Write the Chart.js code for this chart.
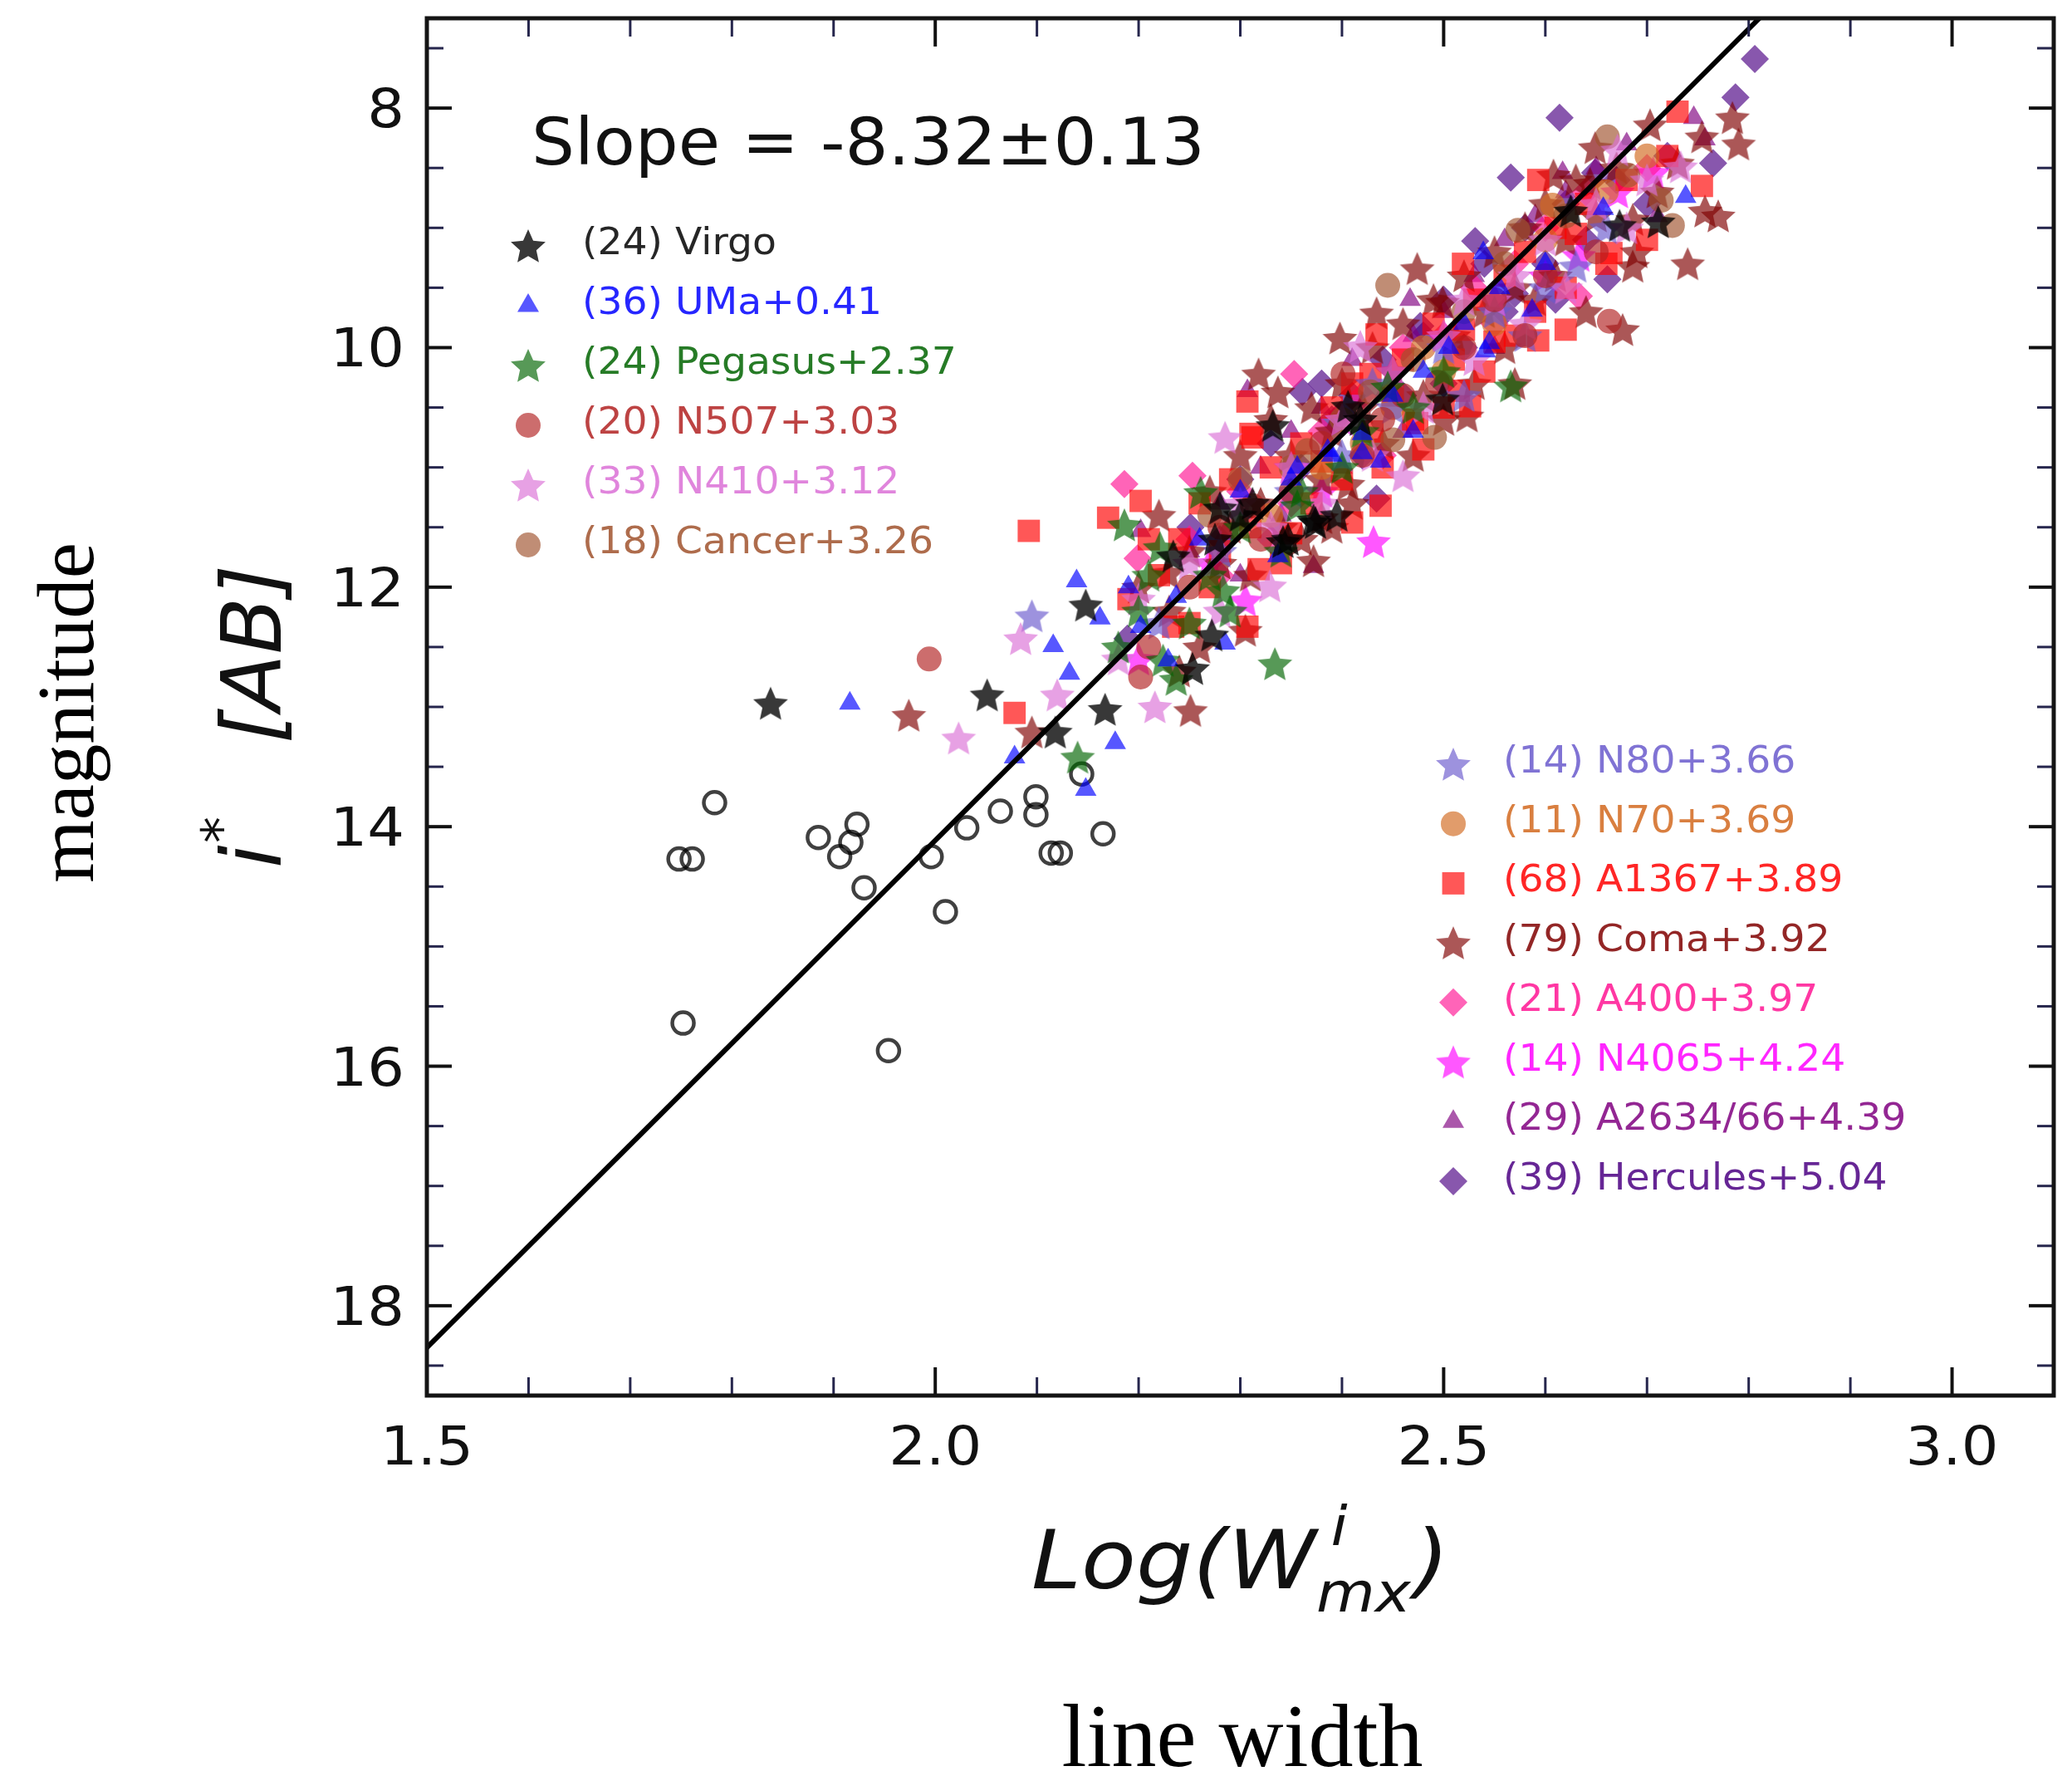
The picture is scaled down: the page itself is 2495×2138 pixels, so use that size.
<!DOCTYPE html>
<html>
<head>
<meta charset="utf-8">
<script src="https://cdn.jsdelivr.net/npm/chart.js@4.4.1/dist/chart.umd.min.js"></script>
<style>
html, body { margin: 0; padding: 0; background: #fff; }
canvas { display: block; }
</style>
</head>
<body>
<canvas id="tfChart" width="2495" height="2138"></canvas>
<script>
// ---- data: [log W, i* mag] ----
const virgo = [[1.838,12.97],[2.051,12.90],[2.148,12.15],[2.167,13.02],[2.118,13.21],[2.253,12.68],[2.234,11.74],[2.275,11.60],[2.272,12.40],[2.280,11.34],[2.312,11.30],[2.374,11.46],[2.347,11.60],[2.332,10.65],[2.406,10.49],[2.418,10.60],[2.499,10.43],[2.372,11.44],[2.342,11.62],[2.625,8.86],[2.673,8.98],[2.711,8.95],[2.300,11.40],[2.395,11.40]];
const uma = [[1.916,12.97],[2.139,11.95],[2.162,12.26],[2.116,12.49],[2.132,12.72],[2.177,13.30],[2.078,13.42],[2.148,13.69],[2.202,12.33],[2.237,12.08],[2.229,12.61],[2.285,12.47],[2.337,11.74],[2.420,10.88],[2.539,9.21],[2.587,9.69],[2.541,10.03],[2.438,10.95],[2.420,10.72],[2.386,10.86],[2.356,11.00],[2.738,8.74],[2.657,8.84],[2.545,9.96],[2.45,10.4],[2.48,10.2],[2.505,10.0],[2.52,9.8],[2.30,11.2],[2.26,11.6],[2.19,12.0],[2.60,9.3],[2.47,10.7],[2.35,11.1],[2.39,10.9],[2.555,9.5]];
const pegasus = [[2.566,10.32],[2.334,12.64],[2.237,12.77],[2.140,13.42],[2.186,11.48],[2.221,11.67],[2.283,12.03],[2.224,12.61],[2.261,11.21],[2.356,11.32],[2.445,10.33],[2.30,11.5],[2.40,11.0],[2.20,12.2],[2.27,11.9],[2.42,10.7],[2.47,10.5],[2.18,12.5],[2.25,12.3],[2.34,11.7],[2.50,10.2],[2.29,12.2],[2.21,11.9],[2.36,11.2]];
const n507 = [[1.994,12.60],[2.202,12.75],[2.312,11.32],[2.401,10.22],[2.663,9.78],[2.494,10.29],[2.28,11.5],[2.35,11.2],[2.42,10.9],[2.46,10.4],[2.52,10.0],[2.55,9.6],[2.60,9.4],[2.25,12.0],[2.32,11.6],[2.44,10.6],[2.38,10.8],[2.58,9.9],[2.21,12.5],[2.65,9.2]];
const n410 = [[2.023,13.26],[2.084,12.43],[2.216,13.0],[2.285,10.75],[2.329,11.99],[2.460,11.07],[2.418,9.99],[2.671,8.35],[2.733,8.49],[2.30,11.3],[2.35,11.0],[2.40,10.6],[2.45,10.2],[2.50,9.9],[2.55,9.6],[2.60,9.1],[2.65,8.8],[2.25,11.8],[2.20,12.1],[2.48,10.5],[2.53,10.1],[2.57,9.4],[2.62,9.5],[2.43,10.9],[2.38,11.3],[2.33,11.5],[2.28,12.2],[2.68,9.0],[2.70,8.6],[2.18,12.6],[2.58,9.8],[2.12,12.9],[2.52,9.6]];
const cancer = [[2.445,9.48],[2.491,10.75],[2.450,10.77],[2.428,10.37],[2.366,10.86],[2.661,8.24],[2.714,8.77],[2.725,8.98],[2.573,9.02],[2.681,8.56],[2.30,11.1],[2.35,11.0],[2.40,10.6],[2.52,9.7],[2.56,9.3],[2.62,8.9],[2.47,10.1],[2.27,11.4]];
const n80 = [[2.095,12.24],[2.630,9.32],[2.35,11.2],[2.40,10.9],[2.45,10.5],[2.50,10.0],[2.55,9.7],[2.60,9.5],[2.28,11.7],[2.22,12.3],[2.52,10.4],[2.58,9.9],[2.66,9.0],[2.43,10.3]];
const n70 = [[2.607,8.81],[2.45,10.5],[2.50,10.2],[2.55,9.8],[2.38,11.0],[2.60,9.1],[2.66,8.7],[2.33,11.4],[2.48,10.0],[2.70,8.4],[2.42,10.8]];
const a1367 = [[2.092,11.53],[2.078,13.05],[2.170,11.42],[2.202,11.28],[2.312,10.75],[2.234,12.33],[2.410,11.46],[2.318,11.85],[2.307,12.33],[2.307,10.45],[2.310,10.72],[2.428,10.22],[2.434,9.89],[2.519,9.30],[2.620,9.85],[2.593,9.94],[2.665,9.21],[2.438,11.32],[2.474,10.63],[2.515,10.36],[2.526,10.49],[2.593,8.60],[2.730,8.03],[2.754,8.65],[2.22,11.9],[2.24,11.6],[2.26,11.3],[2.27,12.0],[2.29,11.1],[2.31,11.5],[2.33,11.0],[2.34,11.8],[2.36,10.8],[2.37,11.3],[2.39,10.5],[2.40,11.1],[2.41,10.3],[2.43,10.7],[2.44,11.0],[2.46,10.1],[2.47,10.6],[2.49,9.8],[2.50,10.5],[2.51,10.1],[2.53,9.6],[2.54,10.2],[2.56,9.4],[2.57,9.9],[2.58,9.2],[2.59,9.7],[2.61,9.0],[2.62,9.5],[2.64,8.8],[2.66,9.3],[2.68,8.6],[2.70,9.1],[2.72,8.4],[2.25,12.3],[2.19,12.1],[2.35,11.55],[2.45,10.4],[2.55,9.95],[2.63,9.05],[2.48,10.85],[2.21,11.6],[2.28,11.7],[2.38,10.95],[2.52,9.85]];
const coma = [[2.251,13.03],[2.095,13.21],[2.305,12.36],[2.229,11.88],[2.372,11.78],[2.380,11.42],[1.974,13.07],[2.474,9.34],[2.398,9.92],[2.318,10.22],[2.337,10.37],[2.434,9.71],[2.499,9.62],[2.523,10.57],[2.676,9.85],[2.686,9.32],[2.406,11.14],[2.703,8.14],[2.784,8.08],[2.754,8.24],[2.757,8.86],[2.649,8.33],[2.730,8.46],[2.644,8.63],[2.608,8.56],[2.686,8.93],[2.20,12.0],[2.22,11.4],[2.23,12.2],[2.25,11.7],[2.26,12.5],[2.27,11.2],[2.28,11.8],[2.29,11.5],[2.30,10.9],[2.31,11.9],[2.32,11.3],[2.33,10.6],[2.34,11.5],[2.35,10.9],[2.36,11.6],[2.37,10.5],[2.38,11.1],[2.39,10.7],[2.40,10.3],[2.41,11.3],[2.42,10.5],[2.43,10.0],[2.44,10.8],[2.45,10.2],[2.46,9.8],[2.47,10.9],[2.48,10.4],[2.49,9.6],[2.50,10.6],[2.51,9.9],[2.52,9.4],[2.53,10.3],[2.54,9.7],[2.55,9.2],[2.56,10.0],[2.57,9.5],[2.58,9.0],[2.59,9.6],[2.60,8.8],[2.61,9.4],[2.62,9.1],[2.63,8.6],[2.64,9.7],[2.65,8.9],[2.67,8.5],[2.69,9.2],[2.71,8.7],[2.74,9.3],[2.77,8.9],[2.79,8.3],[2.24,12.7],[2.39,11.5],[2.57,10.3]];
const a400 = [[2.186,11.14],[2.199,11.76],[2.253,11.07],[2.353,10.22],[2.633,9.57],[2.25,11.6],[2.30,11.2],[2.33,11.6],[2.38,10.7],[2.42,10.4],[2.46,10.0],[2.50,9.9],[2.53,9.5],[2.57,9.3],[2.60,9.0],[2.64,8.7],[2.70,8.5],[2.44,10.9],[2.35,11.3],[2.28,11.9],[2.55,9.8]];
const n4065 = [[2.431,11.62],[2.633,9.23],[2.305,12.11],[2.706,8.54],[2.671,8.70],[2.35,11.0],[2.40,10.6],[2.45,10.2],[2.50,9.9],[2.55,9.6],[2.60,9.4],[2.27,11.8],[2.20,12.6],[2.38,11.2]];
const a2634 = [[2.467,9.60],[2.372,11.83],[2.307,10.36],[2.617,8.54],[2.746,8.08],[2.757,8.26],[2.202,11.53],[2.285,11.55],[2.25,11.7],[2.28,11.3],[2.32,11.0],[2.35,10.7],[2.38,10.5],[2.41,10.1],[2.44,10.4],[2.47,9.9],[2.50,9.7],[2.53,9.4],[2.56,9.1],[2.59,8.9],[2.62,8.7],[2.65,8.5],[2.68,8.3],[2.71,8.9],[2.46,10.7],[2.40,11.0],[2.34,11.4],[2.55,10.0],[2.30,11.9]];
const hercules = [[2.614,8.08],[2.566,8.58],[2.806,7.59],[2.787,7.91],[2.765,8.46],[2.649,8.54],[2.531,9.11],[2.661,9.43],[2.434,11.26],[2.361,10.37],[2.477,9.82],[2.251,11.50],[2.189,12.43],[2.57,9.55],[2.40,10.55],[2.30,11.1],[2.33,10.8],[2.36,11.0],[2.39,10.6],[2.41,10.4],[2.44,10.1],[2.46,10.4],[2.48,9.9],[2.50,9.6],[2.52,10.0],[2.54,9.3],[2.56,9.7],[2.58,9.0],[2.60,9.3],[2.62,8.8],[2.64,9.1],[2.67,8.6],[2.70,8.8],[2.72,8.4],[2.28,11.6],[2.42,10.9],[2.50,10.3],[2.38,10.3],[2.61,9.6]];
// galaxies left out of the fit (open circles)
const excluded = [[1.783,13.80],[1.748,14.27],[1.761,14.27],[1.885,14.09],[1.923,13.98],[1.917,14.13],[1.906,14.25],[1.930,14.51],[1.996,14.25],[2.010,14.71],[2.031,14.01],[2.064,13.87],[2.099,13.75],[2.099,13.90],[2.114,14.22],[2.123,14.22],[2.165,14.06],[2.144,13.56],[1.752,15.64],[1.954,15.87]];
// fitted relation, end points
const fitX = [1.5, 2.84];
const fitY = [18.35, 7.0];

const xMajorTicks = [1.5, 2.0, 2.5, 3.0];
const yMajorTicks = [8, 10, 12, 14, 16, 18];
const slopeText = 'Slope = -8.32\u00b10.13';

// legend blocks: label, data, marker, rgb
const leftGroups = [
	['(24) Virgo', virgo, 'star', '0,0,0'],
	['(36) UMa+0.41', uma, 'triangle', '0,0,255'],
	['(24) Pegasus+2.37', pegasus, 'star', '0,100,0'],
	['(20) N507+3.03', n507, 'circle', '178,34,34'],
	['(33) N410+3.12', n410, 'star', '218,112,214'],
	['(18) Cancer+3.26', cancer, 'circle', '160,82,45'],
];
const rightGroups = [
	['(14) N80+3.66', n80, 'star', '106,90,205'],
	['(11) N70+3.69', n70, 'circle', '210,105,30'],
	['(68) A1367+3.89', a1367, 'rect', '255,0,0'],
	['(79) Coma+3.92', coma, 'star', '128,0,0'],
	['(21) A400+3.97', a400, 'rectRot', '255,20,147'],
	['(14) N4065+4.24', n4065, 'star', '255,0,255'],
	['(29) A2634/66+4.39', a2634, 'triangle', '128,0,128'],
	['(39) Hercules+5.04', hercules, 'rectRot', '75,0,130'],
];

const markerRadius = { star: 22, circle: 15, rect: 19, rectRot: 17, triangle: 15 };

const makeStar = (color, R) => {
	const s = Math.ceil(R * 2 + 4);
	const cv = document.createElement('canvas');
	cv.width = s;
	cv.height = s;
	const g = cv.getContext('2d');
	g.translate(s / 2, s / 2 + 2);
	g.beginPath();
	for (let k = 0; k < 10; k++) {
		const r = k % 2 ? R * 0.47 : R;
		const a = -Math.PI / 2 + k * Math.PI / 5;
		g.lineTo(r * Math.cos(a), r * Math.sin(a));
	}
	g.closePath();
	g.fillStyle = color;
	g.fill();
	return cv;
};

const alphaFor = (rgb) => rgb === '0,0,0' ? 0.78 : 0.66;

const buildDataset = (group, idx) => {
	const [label, pts, marker, rgb] = group;
	const fill = 'rgba(' + rgb + ',' + alphaFor(rgb) + ')';
	let style = marker;
	if (marker === 'star') {
		style = makeStar(fill, markerRadius.star);
	}
	group.push(style, fill);
	return {
		label: label,
		data: pts.map(([x, y]) => ({ x, y })),
		pointStyle: style,
		pointRadius: markerRadius[marker],
		backgroundColor: fill,
		borderWidth: 0,
		order: idx,
	};
};

const allGroups = leftGroups.concat(rightGroups);
let datasets = allGroups.map((g, i) => buildDataset(g, i + 2));
datasets.push({
	label: 'excluded',
	data: excluded.map(([x, y]) => ({ x, y })),
	pointStyle: 'circle',
	pointRadius: 13,
	backgroundColor: 'rgba(0,0,0,0)',
	borderColor: 'rgba(0,0,0,0.75)',
	borderWidth: 4.5,
	order: 30,
});
datasets.push({
	type: 'line',
	label: 'fit',
	data: fitX.map((x, i) => ({ x: x, y: fitY[i] })),
	borderColor: '#000',
	borderWidth: 6,
	pointRadius: 0,
	fill: false,
	order: 0,
});

const stretchText = (c, str, x, y, align, hs) => {
	c.save();
	c.translate(x, y);
	c.scale(hs, 1);
	c.textAlign = align;
	c.fillText(str, 0, 0);
	c.restore();
};

const drawMarker = (c, marker, style, fill, x, y) => {
	const r = markerRadius[marker];
	if (marker === 'star') {
		c.drawImage(style, x - style.width / 2, y - style.height / 2);
		return;
	}
	c.fillStyle = fill;
	c.beginPath();
	if (marker === 'circle') {
		c.arc(x, y, r, 0, Math.PI * 2);
	} else if (marker === 'rect') {
		const h = r * Math.SQRT1_2;
		c.rect(x - h, y - h, 2 * h, 2 * h);
	} else if (marker === 'rectRot') {
		c.moveTo(x - r, y); c.lineTo(x, y - r); c.lineTo(x + r, y); c.lineTo(x, y + r);
	} else if (marker === 'triangle') {
		for (let k = 0; k < 3; k++) {
			const a = k * 2 * Math.PI / 3;
			c.lineTo(x + Math.sin(a) * r, y - Math.cos(a) * r);
		}
	}
	c.closePath();
	c.fill();
};

const framePlugin = {
	id: 'frame',
	afterDraw: (chart) => {
		const c = chart.ctx;
		const area = chart.chartArea;
		const xs = chart.scales.x;
		const ys = chart.scales.y;
		c.save();

		// inward ticks on all four sides
		const tick = (x1, y1, x2, y2, major) => {
			c.strokeStyle = major ? '#111' : '#26264d';
			c.lineWidth = major ? 4 : 3;
			c.beginPath();
			c.moveTo(x1, y1);
			c.lineTo(x2, y2);
			c.stroke();
		};
		for (let k = 1; k < 16; k++) {
			const v = 1.5 + k * 0.1;
			const major = xMajorTicks.some((m) => Math.abs(m - v) < 1e-6);
			const len = major ? 34 : 22;
			const px = xs.getPixelForValue(v);
			tick(px, area.bottom, px, area.bottom - len, major);
			tick(px, area.top, px, area.top + len, major);
		}
		for (let k = 0; k < 23; k++) {
			const val = 7.5 + k * 0.5;
			const major = yMajorTicks.indexOf(val) >= 0;
			const len = major ? 30 : 20;
			const py = ys.getPixelForValue(val);
			tick(area.left, py, area.left + len, py, major);
			tick(area.right, py, area.right - len, py, major);
		}

		// frame
		c.strokeStyle = '#141414';
		c.lineWidth = 5;
		c.strokeRect(area.left, area.top, area.right - area.left, area.bottom - area.top);

		// tick labels
		c.fillStyle = '#111';
		c.font = "64px 'DejaVu Sans'";
		c.textBaseline = 'alphabetic';
		xMajorTicks.forEach((v) => {
			stretchText(c, v.toFixed(1), xs.getPixelForValue(v), 1763, 'center', 1.1);
		});
		yMajorTicks.forEach((v) => {
			stretchText(c, String(v), 487, ys.getPixelForValue(v) + 23, 'right', 1.1);
		});

		// slope annotation
		c.font = "78px 'DejaVu Sans'";
		stretchText(c, slopeText, 640, 198, 'left', 1.05);

		// legends
		c.font = "45px 'DejaVu Sans'";
		leftGroups.forEach((g, i) => {
			const rowY = 290 + i * 72;
			drawMarker(c, g[2], g[4], g[5], 636, rowY + 6);
			c.fillStyle = 'rgba(' + g[3] + ',0.85)';
			stretchText(c, g[0], 701, rowY + 16, 'left', 1.05);
		});
		rightGroups.forEach((g, i) => {
			const rowY = 914 + i * 71.7;
			drawMarker(c, g[2], g[4], g[5], 1750, rowY + 6);
			c.fillStyle = 'rgba(' + g[3] + ',0.85)';
			stretchText(c, g[0], 1810, rowY + 16, 'left', 1.05);
		});

		// x axis title: Log(W^i_mx)
		c.fillStyle = '#111';
		const hs = 1.1;
		const big = "italic 98px 'DejaVu Sans'";
		const small = "italic 66px 'DejaVu Sans'";
		c.font = big;
		const wMain = c.measureText('Log(W').width;
		const wClose = c.measureText(')').width;
		c.font = small;
		const wSub = c.measureText('mx').width;
		const total = (wMain + wSub + wClose + 4) * hs;
		c.save();
		c.translate((area.left + area.right) / 2 - total / 2, 0);
		c.scale(hs, 1);
		c.textAlign = 'left';
		let tx = 0;
		c.font = big;
		c.fillText('Log(W', tx, 1912);
		tx += wMain;
		c.font = small;
		c.fillText('i', tx + 16, 1860);
		c.fillText('mx', tx, 1940);
		tx += wSub + 4;
		c.font = big;
		c.fillText(')', tx, 1912);
		c.restore();

		// y axis title: i* [AB]
		c.save();
		c.translate(338, 1045);
		c.rotate(-Math.PI / 2);
		c.textAlign = 'left';
		c.font = "italic 100px 'DejaVu Sans'";
		c.fillText('i', 0, 0);
		c.font = "64px 'DejaVu Sans'";
		c.fillText('*', 30, -50);
		c.font = "italic 100px 'DejaVu Sans'";
		c.fillText('[AB]', 150, 0);
		c.restore();

		// outer captions
		c.fillStyle = '#000';
		c.font = "97px 'Liberation Serif'";
		c.save();
		c.translate(112, 858);
		c.rotate(-Math.PI / 2);
		c.textAlign = 'center';
		c.fillText('magnitude', 0, 0);
		c.restore();
		c.font = "108px 'Liberation Serif'";
		c.textAlign = 'center';
		c.fillText('line width', 1496, 2126);

		c.restore();
	}
};

const ctx = document.getElementById('tfChart');
new Chart(ctx, {
	type: 'scatter',
	data: { datasets: datasets },
	options: {
		responsive: false,
		animation: false,
		devicePixelRatio: 1,
		events: [],
		layout: { padding: { left: 514, top: 17, right: 5, bottom: 458 } },
		scales: {
			x: { type: 'linear', min: 1.5, max: 3.1, display: false },
			y: { type: 'linear', min: 7.25, max: 18.75, reverse: true, display: false },
		},
		plugins: {
			legend: { display: false },
			tooltip: { enabled: false },
		},
	},
	plugins: [framePlugin],
});
</script>
</body>
</html>
